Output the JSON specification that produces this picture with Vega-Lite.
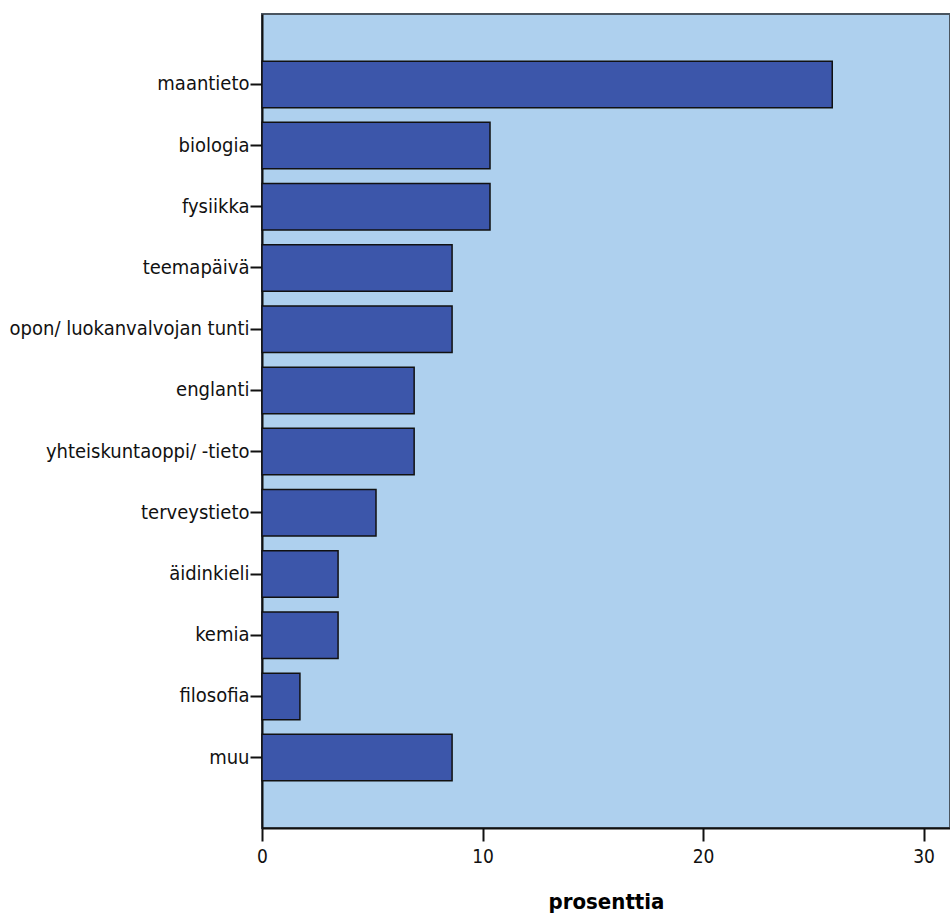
{
  "$schema": "https://vega.github.io/schema/vega-lite/v6.json",
  "autosize": {"type": "none"},
  "padding": {"left": 262, "top": 14, "right": 0, "bottom": 90},
  "width": 688,
  "height": 814,
  "background": "white",
  "data": {
    "values": [
      {"aine": "maantieto", "prosenttia": 25.86},
      {"aine": "biologia", "prosenttia": 10.34},
      {"aine": "fysiikka", "prosenttia": 10.34},
      {"aine": "teemapäivä", "prosenttia": 8.62},
      {"aine": "opon/ luokanvalvojan tunti", "prosenttia": 8.62},
      {"aine": "englanti", "prosenttia": 6.90},
      {"aine": "yhteiskuntaoppi/ -tieto", "prosenttia": 6.90},
      {"aine": "terveystieto", "prosenttia": 5.17},
      {"aine": "äidinkieli", "prosenttia": 3.45},
      {"aine": "kemia", "prosenttia": 3.45},
      {"aine": "filosofia", "prosenttia": 1.72},
      {"aine": "muu", "prosenttia": 8.62}
    ]
  },
  "config": {
    "view": {"fill": "#AED0EE", "stroke": "#4a5560", "strokeWidth": 2},
    "font": "DejaVu Sans Condensed"
  },
  "mark": {"type": "bar", "color": "#3C56AA", "stroke": "#111111", "strokeWidth": 1.5},
  "encoding": {
    "y": {
      "field": "aine",
      "type": "nominal",
      "sort": null,
      "scale": {"paddingInner": 0.24, "paddingOuter": 0.77},
      "axis": {
        "title": null,
        "domainColor": "#111111",
        "domainWidth": 2,
        "tickColor": "#111111",
        "tickWidth": 2,
        "tickSize": 12,
        "labelPadding": 1,
        "labelFont": "DejaVu Sans Condensed",
        "labelFontSize": 20,
        "labelColor": "#111111",
        "labelLimit": 400
      }
    },
    "x": {
      "field": "prosenttia",
      "type": "quantitative",
      "scale": {"domain": [0, 31.2], "nice": false, "zero": true},
      "axis": {
        "title": "prosenttia",
        "values": [0, 10, 20, 30],
        "grid": false,
        "labelFlush": false,
        "domainColor": "#111111",
        "domainWidth": 2,
        "tickColor": "#111111",
        "tickWidth": 2,
        "tickSize": 13,
        "labelPadding": 6,
        "labelFont": "DejaVu Sans Condensed",
        "labelFontSize": 19,
        "labelColor": "#111111",
        "titleFont": "DejaVu Sans Condensed",
        "titleFontSize": 22,
        "titleFontWeight": "bold",
        "titleColor": "#000000",
        "titlePadding": 25
      }
    }
  }
}
